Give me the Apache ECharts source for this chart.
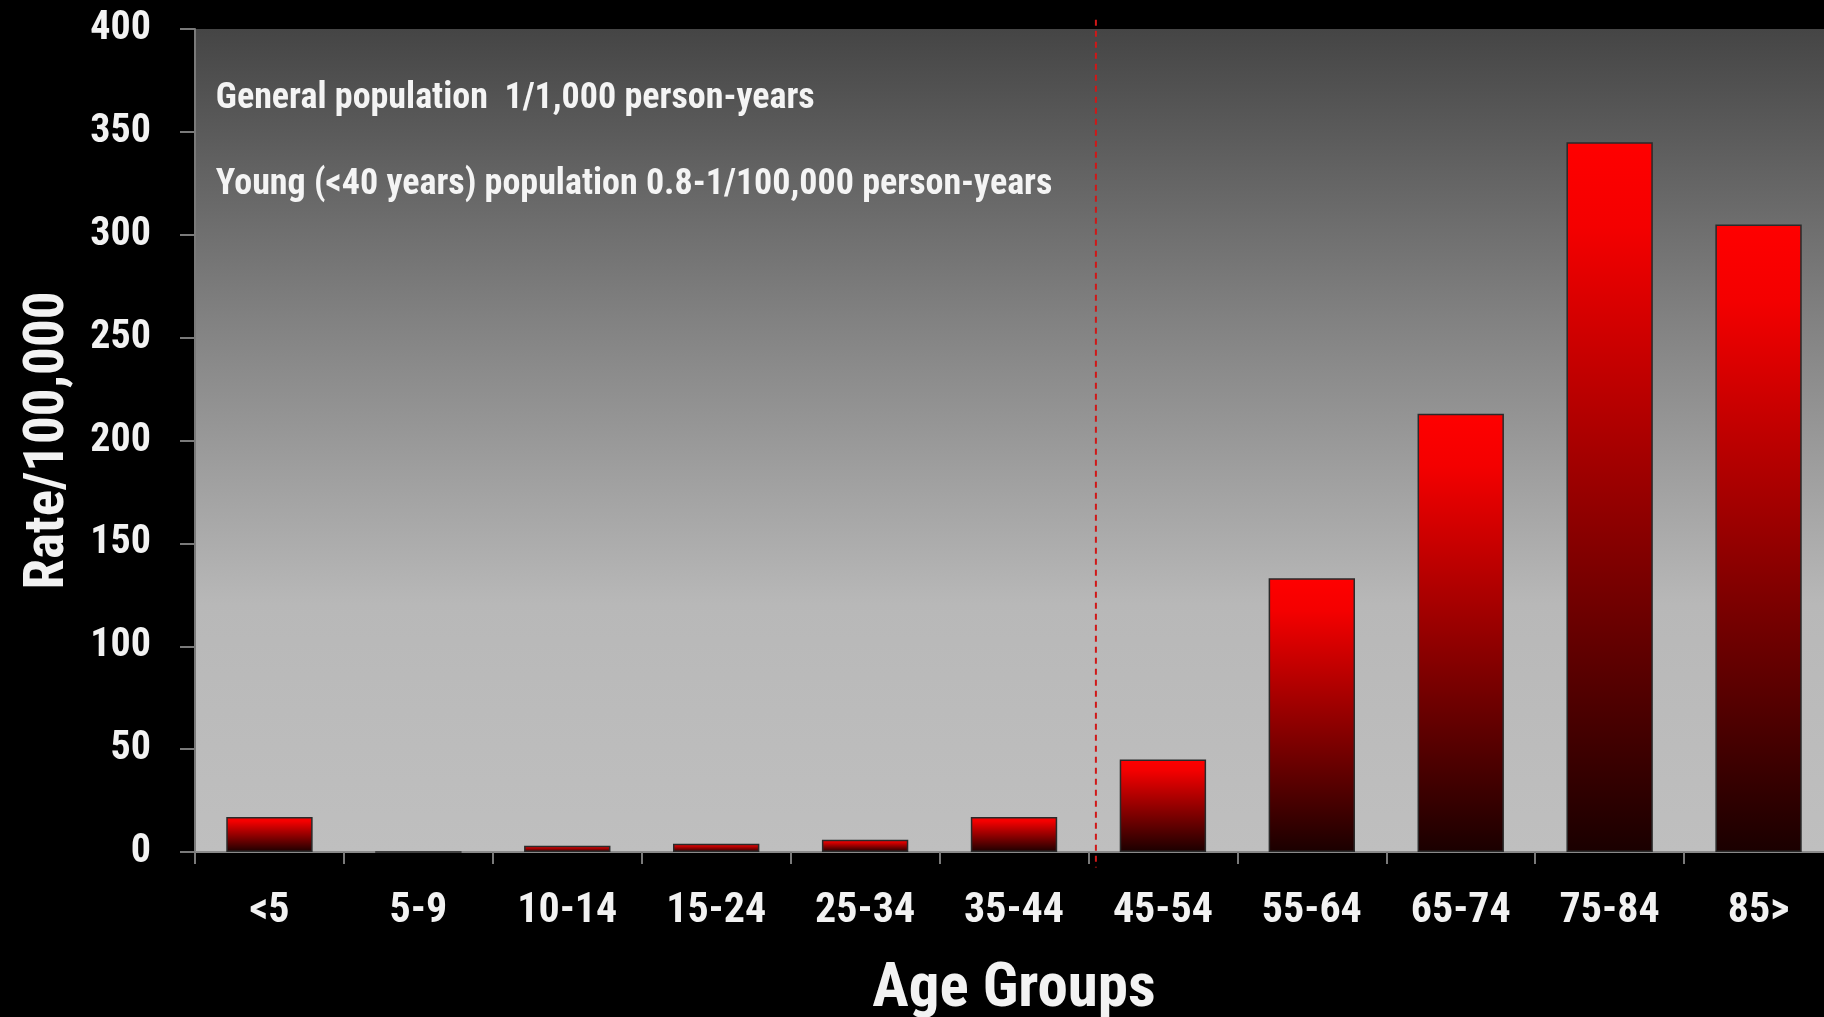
<!DOCTYPE html>
<html>
<head>
<meta charset="utf-8">
<style>
  html, body { margin: 0; padding: 0; background: #000; }
  #chart { width: 1824px; height: 1017px; }
</style>
<script src="https://cdn.jsdelivr.net/npm/echarts@6/dist/echarts.min.js"></script>
</head>
<body>
<div id="chart"></div>
<script>
// Incidence rate per 100,000 by age group
const ageGroups = ['<5', '5-9', '10-14', '15-24', '25-34', '35-44', '45-54', '55-64', '65-74', '75-84', '85>'];
const rates = [17, 0, 3, 4, 6, 17, 45, 133, 213, 345, 305];
const yTicks = { min: 0, max: 400, interval: 50 };
const notes = [
  'General population  1/1,000 person-years',
  'Young (<40 years) population 0.8-1/100,000 person-years'
];
// divider between the under-45 and 45+ groups, in category units
const dividerAt = 6.05;

// condensed bold face for all text
const FONT = "Roboto, 'Liberation Sans', Arial, sans-serif";
const WEIGHT = 'bold condensed';

const chart = echarts.init(document.getElementById('chart'));

const option = {
  backgroundColor: '#000',
  animation: false,
  grid: {
    left: 195,
    top: 29,
    width: 1638,
    height: 823,
    show: true,
    borderWidth: 0,
    outerBoundsMode: 'none',
    backgroundColor: {
      type: 'linear', x: 0, y: 0, x2: 0, y2: 1,
      colorStops: [
        { offset: 0, color: '#454545' },
        { offset: 0.35, color: '#818181' },
        { offset: 0.7, color: '#b8b8b8' },
        { offset: 1, color: '#bfbfbf' }
      ]
    }
  },
  xAxis: [{
    type: 'category',
    data: ageGroups,
    axisLine: { lineStyle: { color: '#8a8a8a', width: 2 } },
    axisTick: { show: true, interval: 0, length: 12, lineStyle: { color: '#7a7a7a', width: 2 } },
    axisLabel: {
      interval: 0, margin: 30, color: '#f2f2f2',
      padding: [8, 0, 0, 0],
      fontFamily: FONT, fontWeight: WEIGHT, fontSize: 42
    },
    name: 'Age Groups',
    nameLocation: 'middle',
    nameGap: 108,
    nameTextStyle: { color: '#f2f2f2', fontFamily: FONT, fontWeight: WEIGHT, fontSize: 61 }
  }, {
    type: 'value', min: 0, max: ageGroups.length, show: false
  }],
  yAxis: {
    type: 'value',
    min: yTicks.min, max: yTicks.max, interval: yTicks.interval,
    splitLine: { show: false },
    axisLine: { show: true, lineStyle: { color: '#7a7a7a', width: 2 } },
    axisTick: { show: true, length: 15, lineStyle: { color: '#7a7a7a', width: 2 } },
    axisLabel: {
      margin: 44, color: '#f2f2f2',
      padding: [14, 0, 0, 0],
      fontFamily: FONT, fontWeight: WEIGHT, fontSize: 40
    },
    name: 'Rate/100,000',
    nameLocation: 'middle',
    nameGap: 118,
    nameRotate: 90,
    nameTextStyle: { color: '#f2f2f2', fontFamily: FONT, fontWeight: WEIGHT, fontSize: 55 }
  },
  series: [{
    type: 'bar',
    data: rates,
    barWidth: '58%',
    itemStyle: {
      color: {
        type: 'linear', x: 0, y: 0, x2: 0, y2: 1,
        colorStops: [
          { offset: 0, color: '#ff0000' },
          { offset: 0.12, color: '#f40000' },
          { offset: 1, color: '#1a0000' }
        ]
      },
      borderColor: '#2a2a2a',
      borderWidth: 1.5
    }
  }]
};

chart.setOption(option);

// Divider line and notes, placed through the chart's own scales
const dx = chart.convertToPixel({ xAxisIndex: 1 }, dividerAt);
const yTop = chart.convertToPixel({ yAxisIndex: 0 }, 404.5);
const yBottom = chart.convertToPixel({ yAxisIndex: 0 }, -7.5);
const noteX = chart.convertToPixel({ xAxisIndex: 1 }, 0.14);
const noteY1 = chart.convertToPixel({ yAxisIndex: 0 }, 366);
const noteY2 = chart.convertToPixel({ yAxisIndex: 0 }, 324);

chart.setOption({
  graphic: [
    {
      type: 'line', silent: true, z: 10,
      shape: { x1: dx, y1: yTop, x2: dx, y2: yBottom },
      style: { stroke: '#d01818', lineWidth: 2, lineDash: [6, 5] }
    },
    {
      type: 'text', silent: true, z: 10, x: noteX, y: noteY1,
      style: {
        text: notes[0], fill: '#f4f4f4', font: WEIGHT + ' 36px ' + FONT,
        verticalAlign: 'middle'
      }
    },
    {
      type: 'text', silent: true, z: 10, x: noteX, y: noteY2,
      style: {
        text: notes[1], fill: '#f4f4f4', font: WEIGHT + ' 36px ' + FONT,
        verticalAlign: 'middle'
      }
    }
  ]
});
</script>
</body>
</html>
